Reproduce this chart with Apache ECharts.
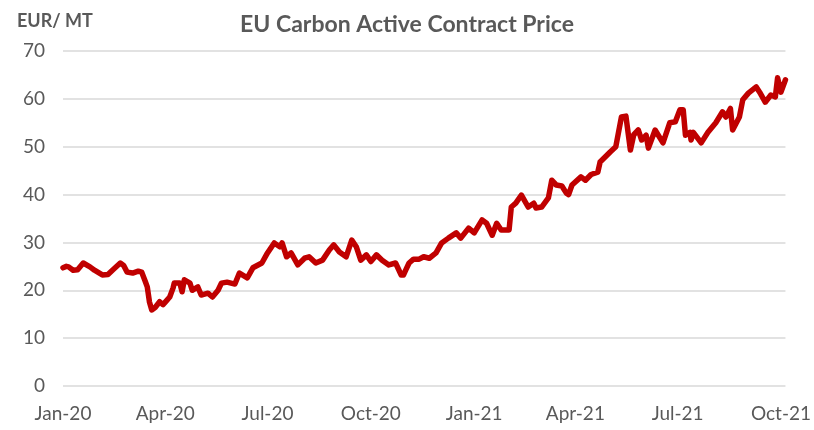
<!DOCTYPE html>
<html>
<head>
<meta charset="utf-8">
<script src="https://cdn.jsdelivr.net/npm/echarts@6/dist/echarts.min.js"></script>
<style>
html,body{margin:0;padding:0;background:#fff;}
#chart{width:814px;height:430px;}
</style>
</head>
<body>
<div id="chart"></div>
<script>
// Dates and prices (EUR/MT)
const dates = [
"2020-01-01","2020-01-04","2020-01-06","2020-01-10","2020-01-14","2020-01-19","2020-01-25","2020-01-29",
"2020-02-05","2020-02-10","2020-02-14","2020-02-21","2020-02-24","2020-02-27","2020-03-03","2020-03-08",
"2020-03-11","2020-03-14","2020-03-16","2020-03-18","2020-03-20","2020-03-23","2020-03-24","2020-03-27",
"2020-03-30","2020-04-02","2020-04-05","2020-04-08","2020-04-09","2020-04-14","2020-04-16","2020-04-18",
"2020-04-23","2020-04-25","2020-04-30","2020-05-03","2020-05-09","2020-05-13","2020-05-18","2020-05-21",
"2020-05-26","2020-06-02","2020-06-06","2020-06-13","2020-06-18","2020-06-26","2020-07-01","2020-07-07",
"2020-07-12","2020-07-14","2020-07-18","2020-07-22","2020-07-28","2020-08-03","2020-08-07","2020-08-13",
"2020-08-19","2020-08-25","2020-08-29","2020-09-03","2020-09-09","2020-09-14","2020-09-18","2020-09-22",
"2020-09-27","2020-10-01","2020-10-06","2020-10-11","2020-10-17","2020-10-23","2020-10-28","2020-10-30",
"2020-11-01","2020-11-04","2020-11-08","2020-11-13","2020-11-17","2020-11-22","2020-11-28","2020-12-03",
"2020-12-09","2020-12-16","2020-12-20","2020-12-27","2021-01-01","2021-01-08","2021-01-12","2021-01-17",
"2021-01-21","2021-01-25","2021-02-01","2021-02-03","2021-02-07","2021-02-12","2021-02-18","2021-02-23",
"2021-02-25","2021-03-02","2021-03-08","2021-03-11","2021-03-15","2021-03-20","2021-03-24","2021-03-26",
"2021-03-29","2021-04-06","2021-04-10","2021-04-15","2021-04-21","2021-04-23","2021-05-02","2021-05-07",
"2021-05-12","2021-05-16","2021-05-20","2021-05-23","2021-05-27","2021-05-30","2021-06-03","2021-06-05",
"2021-06-11","2021-06-18","2021-06-24","2021-06-29","2021-07-03","2021-07-06","2021-07-08","2021-07-12",
"2021-07-13","2021-07-15","2021-07-22","2021-07-28","2021-08-04","2021-08-10","2021-08-13","2021-08-17",
"2021-08-19","2021-08-25","2021-08-28","2021-09-02","2021-09-09","2021-09-12","2021-09-17","2021-09-22",
"2021-09-26","2021-09-28","2021-10-01","2021-10-05"
];
const prices = [
24.7,25.0,24.9,24.2,24.3,25.7,24.9,24.2,
23.2,23.3,24.2,25.7,25.2,23.8,23.6,24.0,
23.8,22.0,20.7,17.5,15.9,16.4,16.2,17.6,
17.0,17.8,18.6,20.5,21.5,21.5,19.7,22.2,
21.5,20.0,20.7,19.0,19.4,18.6,20.0,21.5,
21.7,21.3,23.6,22.6,24.7,25.7,27.8,29.9,
29.1,29.9,27.0,27.8,25.3,26.7,27.0,25.7,
26.3,28.4,29.5,28.0,27.0,30.5,29.1,26.3,
27.4,26.0,27.4,26.3,25.3,25.7,23.2,23.2,
24.2,25.7,26.5,26.5,27.0,26.7,27.8,29.9,
30.9,32.0,30.9,33.0,32.0,34.7,34.0,31.5,
34.0,32.6,32.6,37.4,38.2,39.9,37.4,38.2,
37.2,37.4,39.3,43.0,42.0,41.8,40.3,40.0,
42.0,43.7,43.0,44.2,44.7,46.8,48.9,50.0,
56.2,56.4,49.3,52.5,53.5,51.4,52.4,49.7,
53.5,50.8,55.0,55.2,57.7,57.7,52.4,53.0,
51.4,53.0,50.8,53.0,55.0,57.3,56.2,58.0,
53.5,56.2,59.8,61.2,62.5,61.4,59.3,60.8,
60.4,64.4,61.4,64.0
];
const xTickDates = ["2020-01-01","2020-04-01","2020-07-01","2020-10-01","2021-01-01","2021-04-01","2021-07-01","2021-10-01"];
const xTickLabels = ["Jan-20","Apr-20","Jul-20","Oct-20","Jan-21","Apr-21","Jul-21","Oct-21"];
const yTicks = [0,10,20,30,40,50,60,70];

const DAY = 86400000;
const t0 = Date.UTC(2020,0,1);
// day index since 2020-01-01
const dayIdx = s => { const p = s.split('-'); return Math.round((Date.UTC(+p[0], +p[1]-1, +p[2]) - t0)/DAY); };
const tickDays = xTickDates.map(dayIdx);
const labelMap = {};
tickDays.forEach((t,i)=>{ labelMap[t] = xTickLabels[i]; });

const FONT = 'Lato';
const chart = echarts.init(document.getElementById('chart'), null, {renderer:'canvas'});
chart.setOption({
  animation:false,
  backgroundColor:'#ffffff',
  title:[
    {text:'EU Carbon Active Contract Price', left:402, top:8, textAlign:'center',
     textStyle:{fontFamily:FONT, fontSize:23, fontWeight:'bold', color:'#595959'}},
    {text:'EUR/ MT', left:12, top:7,
     textStyle:{fontFamily:FONT, fontSize:18, fontWeight:'bold', color:'#595959'}}
  ],
  grid:{left:63, right:26, top:51, bottom:44, containLabel:false},
  xAxis:{
    type:'value',
    min:dayIdx(dates[0]), max:dayIdx(dates[dates.length-1]),
    axisLine:{show:false}, axisTick:{show:false},
    splitLine:{show:false},
    axisLabel:{
      customValues:tickDays,
      formatter:v=>labelMap[v] || '',
      fontFamily:FONT, fontSize:19, color:'#595959', margin:18,
      showMinLabel:true, showMaxLabel:true
    }
  },
  yAxis:{
    type:'value', min:yTicks[0], max:yTicks[yTicks.length-1], interval:10,
    axisLine:{show:false}, axisTick:{show:false},
    splitLine:{show:true, lineStyle:{color:'#D9D9D9', width:1.5}},
    axisLabel:{fontFamily:FONT, fontSize:19, color:'#595959', margin:18}
  },
  series:[{
    type:'line',
    data:dates.map((d,i)=>[dayIdx(d), prices[i]]),
    showSymbol:false, symbol:'none',
    lineStyle:{color:'#C00000', width:5.5, join:'round', cap:'round'},
    itemStyle:{color:'#C00000'}
  }]
});
</script>
</body>
</html>
